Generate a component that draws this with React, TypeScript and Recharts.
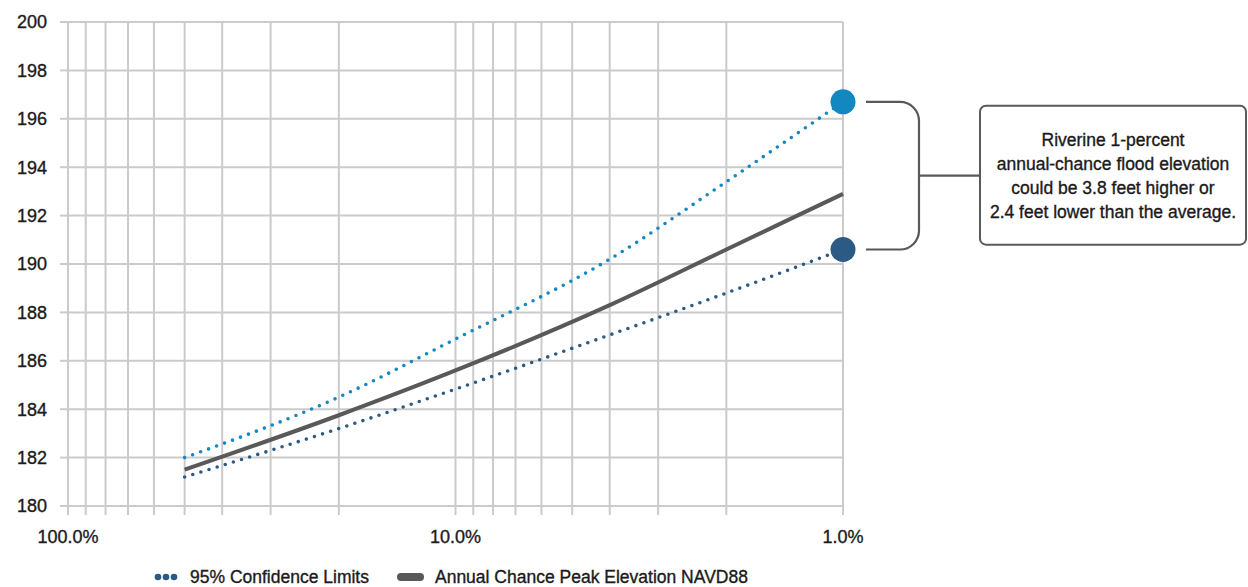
import {
  LineChart,
  Line,
  XAxis,
  YAxis,
  CartesianGrid,
  Legend,
  ReferenceArea,
} from "recharts";

// annual exceedance probability (%) and peak elevations (ft, NAVD88)
const probability = [50, 20, 10, 4, 2, 1];
const averageElevation = [181.5, 183.75, 185.6, 188.3, 190.6, 192.9];
const upperLimit = [182.0, 184.5, 186.9, 190.2, 193.4, 196.7];
const lowerLimit = [181.2, 183.2, 184.83, 187.07, 188.8, 190.6];

const xGridTicks = [1, 2, 3, 4, 5, 6, 7, 8, 9, 10, 20, 30, 40, 50, 60, 70, 80, 90, 100];
const xLabelTicks = [1, 10, 100];
const yTicks = [180, 182, 184, 186, 188, 190, 192, 194, 196, 198, 200];

const noteLines = [
  "Riverine 1-percent",
  "annual-chance flood elevation",
  "could be 3.8 feet higher or",
  "2.4 feet lower than the average.",
];

const FONT = "'Liberation Sans', Arial, sans-serif";
const TEXT = "#1c1a1b";
const GRID = "#cbcbcb";
const UPPER = "#1287c0";
const LOWER = "#2b5b85";
const AVERAGE = "#595959";

// a hairline stroke gives the labels a slightly heavier face
const tickStyle = { fill: TEXT, fontSize: 18, fontFamily: FONT, stroke: TEXT, strokeWidth: 0.35 };

const data = probability.map((p, i) => ({
  p,
  average: averageElevation[i],
  upper: upperLimit[i],
  lower: lowerLimit[i],
}));

const lastIndex = data.length - 1;

const endDot = (color: string) => (props: any) => {
  const { cx, cy, index } = props;
  if (index !== lastIndex) return <g key={`d-${index}`} />;
  return <circle key={`d-${index}`} cx={cx} cy={cy} r={12.5} fill={color} />;
};

// bracket joining the two confidence end points, plus the note box
const Bracket = (props: any) => {
  const { x, y, height } = props;
  const top = y;
  const bottom = y + height;
  const mid = (top + bottom) / 2;
  const x0 = x + 23;
  const x1 = x + 57;
  const xv = x + 76;
  const r = xv - x1;
  const boxX = x + 137;
  const boxW = 266;
  const boxTop = mid - 70;
  const boxH = 139;
  const cxText = boxX + boxW / 2;
  return (
    <g>
      <path
        d={`M${x0},${top} H${x1} A${r},${r} 0 0 1 ${xv},${top + r} V${bottom - r} A${r},${r} 0 0 1 ${x1},${bottom} H${x0}`}
        fill="none"
        stroke={AVERAGE}
        strokeWidth={2.2}
      />
      <line x1={xv} y1={mid} x2={boxX} y2={mid} stroke={AVERAGE} strokeWidth={2.2} />
      <rect
        x={boxX}
        y={boxTop}
        width={boxW}
        height={boxH}
        rx={6}
        ry={6}
        fill="#fff"
        stroke={AVERAGE}
        strokeWidth={2}
      />
      {noteLines.map((line, i) => (
        <text
          key={line}
          x={cxText}
          y={mid - 36 + i * 24}
          textAnchor="middle"
          dominantBaseline="central"
          fontFamily={FONT}
          fontSize={17.5}
          fill={TEXT}
          stroke={TEXT}
          strokeWidth={0.35}
        >
          {line}
        </text>
      ))}
    </g>
  );
};

const LegendContent = () => (
  <div
    style={{
      height: 30,
      display: "flex",
      alignItems: "center",
      paddingLeft: 154,
      paddingTop: 10,
      boxSizing: "border-box",
      fontFamily: FONT,
      fontSize: 17.5,
      color: TEXT,
      WebkitTextStroke: `0.35px ${TEXT}`,
    }}
  >
    <svg width={28} height={10} style={{ marginRight: 8 }}>
      {[4, 12, 20].map((cx) => (
        <circle key={cx} cx={cx} cy={5} r={3.3} fill={LOWER} />
      ))}
    </svg>
    <span style={{ marginRight: 28 }}>95% Confidence Limits</span>
    <svg width={28} height={10} style={{ marginRight: 10 }}>
      <rect x={0} y={1} width={27} height={8} rx={4} fill={AVERAGE} />
    </svg>
    <span>Annual Chance Peak Elevation NAVD88</span>
  </div>
);

export default function App() {
  return (
    <div style={{ position: "absolute", left: 0, top: 0, width: 1248, height: 587, background: "#fff" }}>
      <LineChart
        width={1248}
        height={587}
        data={data}
        margin={{ top: 22, right: 405, bottom: 0, left: 8 }}
      >
        <CartesianGrid stroke={GRID} strokeWidth={2} />
        <XAxis
          dataKey="p"
          type="number"
          scale="log"
          domain={[1, 100]}
          reversed
          ticks={xGridTicks}
          interval={0}
          height={51}
          axisLine={false}
          tickLine={{ stroke: GRID, strokeWidth: 2 }}
          tickSize={9}
          tickMargin={15}
          tickFormatter={(v: number) => (xLabelTicks.includes(v) ? `${v.toFixed(1)}%` : "")}
          tick={tickStyle}
        />
        <YAxis
          type="number"
          domain={[180, 200]}
          ticks={yTicks}
          interval={0}
          width={60}
          axisLine={false}
          tickLine={{ stroke: GRID, strokeWidth: 2 }}
          tickSize={8}
          tickMargin={13}
          tick={tickStyle}
        />
        <Legend verticalAlign="bottom" wrapperStyle={{ left: 0, width: 1248 }} content={LegendContent} />
        <Line
          type="monotone"
          dataKey="average"
          stroke={AVERAGE}
          strokeWidth={4}
          dot={false}
          isAnimationActive={false}
        />
        <Line
          type="monotone"
          dataKey="upper"
          stroke={UPPER}
          strokeWidth={3.6}
          strokeDasharray="0 8.5"
          strokeLinecap="round"
          dot={endDot(UPPER)}
          activeDot={false}
          isAnimationActive={false}
        />
        <Line
          type="monotone"
          dataKey="lower"
          stroke={LOWER}
          strokeWidth={3.6}
          strokeDasharray="0 8.5"
          strokeLinecap="round"
          dot={endDot(LOWER)}
          activeDot={false}
          isAnimationActive={false}
        />
        <ReferenceArea
          x1={1}
          x2={1}
          y1={lowerLimit[lastIndex]}
          y2={upperLimit[lastIndex]}
          ifOverflow="visible"
          shape={Bracket}
        />
      </LineChart>
    </div>
  );
}
